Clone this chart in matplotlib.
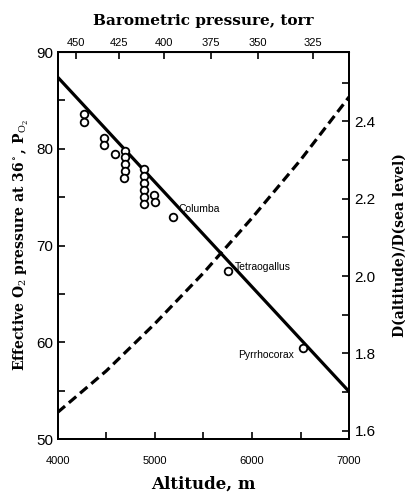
import matplotlib
matplotlib.use('Agg')
import matplotlib.pyplot as plt
from matplotlib.ticker import MultipleLocator

# altitude (m) vs effective O2 pressure
line_alt = [4000, 7000]
line_po2 = [87.4, 54.9]

# birds' eggs (altitude, PO2)
egg_alt = [4270, 4270, 4480, 4475, 4590,
           4690, 4690, 4690, 4690, 4685,
           4890, 4890, 4890, 4890, 4890, 4890,
           4995, 5000, 5190, 5750, 6530]
egg_po2 = [83.6, 82.8, 81.1, 80.4, 79.5,
           79.8, 79.1, 78.4, 77.7, 77.0,
           77.9, 77.2, 76.5, 75.7, 75.0, 74.3,
           75.2, 74.5, 72.9, 67.4, 59.4]

species = ['Columba', 'Tetraogallus', 'Pyrrhocorax']
species_alt = [5190, 5750, 6530]
species_po2 = [72.9, 67.4, 59.4]

# diffusion ratio D(altitude)/D(sea level)
d_alt = [4000, 4500, 5000, 5500, 6000, 6500, 7000]
d_ratio = [1.648, 1.755, 1.877, 2.008, 2.150, 2.300, 2.463]

# barometric pressure ticks (top axis) at their altitudes
torr_labels = ['450', '425', '400', '375', '350', '325']
torr_alt = [4190, 4635, 5090, 5580, 6065, 6630]

plt.rcParams['font.family'] = ['Liberation Sans', 'DejaVu Sans']
plt.rcParams['mathtext.fontset'] = 'dejavuserif'

fig = plt.figure(figsize=(4.05, 4.93), dpi=100)
ax = fig.add_axes([0.1425, 0.1095, 0.7195, 0.785])

ax.plot(line_alt, line_po2, color='black', lw=2.3, zorder=2)
ax.plot(egg_alt, egg_po2, 'o', mfc='white', mec='black', ms=5.5, mew=1.3, zorder=3)

# species labels
ax.text(species_alt[0] + 50, species_po2[0] + 0.9, species[0], fontsize=7.5, va='center', ha='left')
ax.text(species_alt[1] + 70, species_po2[1] + 0.35, species[1], fontsize=7.5, va='center', ha='left')
ax.text(species_alt[2] - 100, species_po2[2] - 0.7, species[2], fontsize=7.5, va='center', ha='right')

ax.set_xlim(4000, 7000)
ax.set_ylim(50, 90)
ax.xaxis.set_major_locator(MultipleLocator(1000))
ax.xaxis.set_minor_locator(MultipleLocator(500))
ax.yaxis.set_major_locator(MultipleLocator(10))
ax.yaxis.set_minor_locator(MultipleLocator(5))
ax.tick_params(which='both', direction='in', width=1.2)
ax.tick_params(which='major', length=5)
ax.tick_params(which='minor', length=5)
ax.tick_params(axis='x', labelsize=8, pad=12)
ax.tick_params(axis='y', labelsize=11, pad=3)
for s in ax.spines.values():
    s.set_linewidth(1.4)

ax.set_xlabel('Altitude, m', family='DejaVu Serif', fontweight='bold', fontsize=12, labelpad=7)
ax.set_ylabel(r'Effective O$_2$ pressure at 36$^\circ$, P$_{\mathrm{O}_2}$',
              family='DejaVu Serif', fontweight='bold', fontsize=10, labelpad=4)

ax2 = ax.twinx()
ax2.plot(d_alt, d_ratio, color='black', lw=2.3, ls=(0, (3, 1.6)), zorder=2)
ax2.set_ylim(1.579, 2.579)
ax2.yaxis.set_major_locator(MultipleLocator(0.2))
ax2.yaxis.set_minor_locator(MultipleLocator(0.1))
ax2.tick_params(which='both', direction='in', width=1.2, length=5, labelsize=11, pad=4)
ax2.set_yticks([1.6, 1.8, 2.0, 2.2, 2.4])
ax2.set_yticklabels(['1.6', '1.8', '2.0', '2.2', '2.4'])
ax2.set_ylabel('D(altitude)/D(sea level)', family='DejaVu Serif', fontweight='bold',
               fontsize=10, labelpad=12)
for s in ax2.spines.values():
    s.set_linewidth(1.4)

top = ax.secondary_xaxis('top')
top.set_xticks(torr_alt, labels=torr_labels)
top.tick_params(direction='in', length=5, width=1.2, labelsize=8, pad=3)
top.set_xlabel('Barometric pressure, torr', family='DejaVu Serif', fontweight='bold',
               fontsize=11, labelpad=9)

fig.savefig('out.png', dpi=100)
